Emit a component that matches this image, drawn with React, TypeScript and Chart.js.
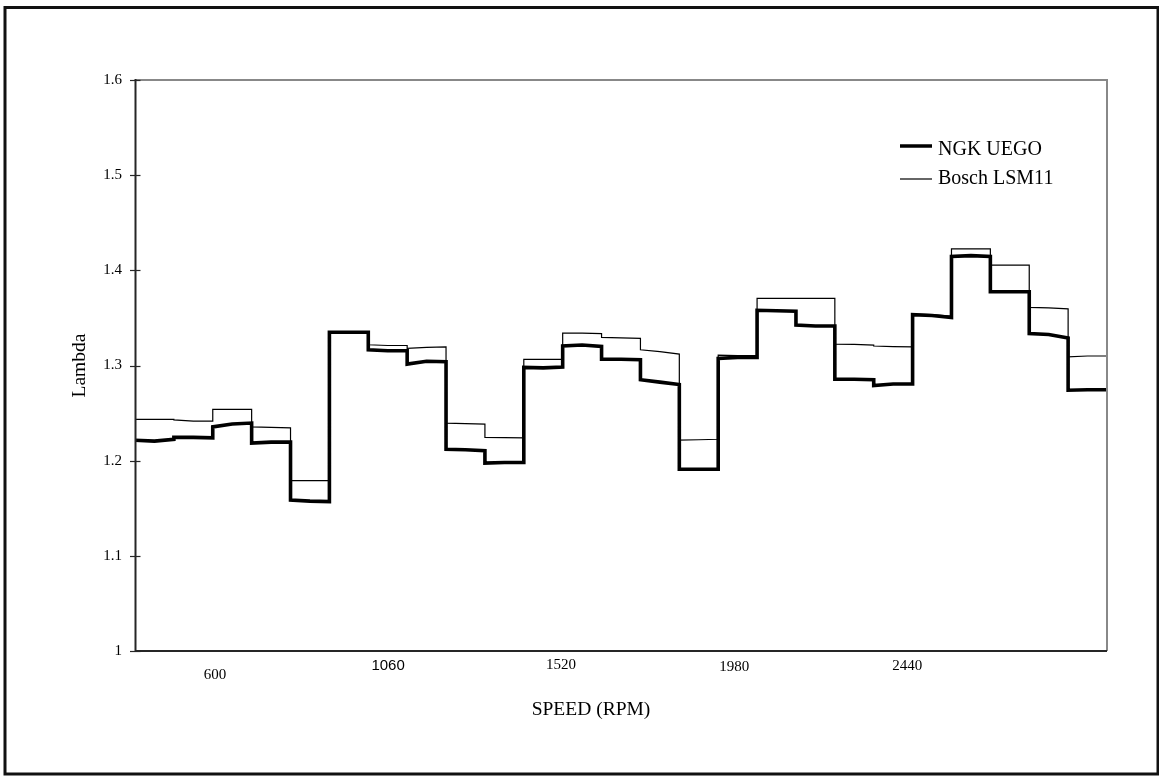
import { useEffect, useRef } from 'react';
import { Chart, registerables } from 'chart.js';

Chart.register(...registerables);

// Lambda readings for 25 consecutive test points (5 speeds x 5 loads).
// Each test point is described by its value at the start, middle and end of the hold.
const NGK_START = [1.2215, 1.2245, 1.2355, 1.2185, 1.1585, 1.335, 1.3165, 1.3015, 1.212, 1.1975, 1.298, 1.3205, 1.3065, 1.285, 1.191, 1.3075, 1.358, 1.3425, 1.2855, 1.279, 1.3535, 1.4145, 1.3775, 1.3335, 1.274];
const NGK_MID = [1.2205, 1.2245, 1.2385, 1.2195, 1.1575, 1.335, 1.3155, 1.3045, 1.2115, 1.198, 1.2975, 1.3215, 1.3065, 1.2825, 1.191, 1.3085, 1.3575, 1.3415, 1.2855, 1.2805, 1.3525, 1.4155, 1.3775, 1.3325, 1.2745];
const NGK_END = [1.2225, 1.224, 1.2395, 1.2195, 1.157, 1.335, 1.3155, 1.304, 1.2105, 1.198, 1.2985, 1.32, 1.306, 1.28, 1.191, 1.3085, 1.357, 1.3415, 1.285, 1.2805, 1.3505, 1.4145, 1.3775, 1.329, 1.2745];

const BOSCH_START = [1.2434, 1.2428, 1.254, 1.2355, 1.179, 1.3355, 1.3218, 1.318, 1.2395, 1.2245, 1.3065, 1.334, 1.3295, 1.3165, 1.2215, 1.311, 1.3705, 1.3705, 1.3225, 1.3205, 1.354, 1.4225, 1.4055, 1.361, 1.309];
const BOSCH_MID = [1.2434, 1.2416, 1.254, 1.235, 1.179, 1.3355, 1.321, 1.319, 1.239, 1.2242, 1.3065, 1.334, 1.329, 1.3145, 1.222, 1.3105, 1.3705, 1.3705, 1.3222, 1.3198, 1.3535, 1.4225, 1.4055, 1.3605, 1.31];
const BOSCH_END = [1.2434, 1.2416, 1.254, 1.2345, 1.179, 1.3355, 1.321, 1.3195, 1.2385, 1.224, 1.3065, 1.3335, 1.3285, 1.312, 1.2225, 1.3105, 1.3705, 1.3705, 1.3215, 1.3195, 1.352, 1.4225, 1.4055, 1.3595, 1.31];

const SERIES_NAMES = ['NGK UEGO', 'Bosch LSM11'];

// Speed labels and where they sit along the test-point axis
const X_LABELS = ['600', '1060', '1520', '1980', '2440'];
const X_LABEL_AT = [2.06, 6.51, 10.96, 15.41, 19.86];

const Y_MIN = 1;
const Y_MAX = 1.6;
const Y_STEP = 0.1;

const X_TITLE = 'SPEED (RPM)';
const Y_TITLE = 'Lambda';

const SERIF = "'Liberation Serif', 'Times New Roman', serif";
const SANS = "'Liberation Sans', Arial, sans-serif";

// per-label font and vertical offset below the x axis
const X_LABEL_STYLE = [
  { family: SERIF, dy: 24 },
  { family: SANS, dy: 15 },
  { family: SERIF, dy: 14 },
  { family: SERIF, dy: 16 },
  { family: SERIF, dy: 15 },
];

function buildTrace(start: number[], mid: number[], end: number[]) {
  const pts: { x: number; y: number }[] = [];
  for (let i = 0; i < start.length; i++) {
    pts.push({ x: i, y: start[i] }, { x: i + 0.5, y: mid[i] }, { x: i + 1, y: end[i] });
  }
  return pts;
}

const decorations = {
  id: 'decorations',
  afterDraw(chart: any) {
    const { ctx, chartArea, scales } = chart;
    const { left, right, top, bottom } = chartArea;
    const xs = scales.x;
    const ys = scales.y;
    ctx.save();

    // plot frame: grey top/right, dark left/bottom axes
    ctx.lineCap = 'butt';
    ctx.strokeStyle = '#888888';
    ctx.lineWidth = 2;
    ctx.beginPath();
    ctx.moveTo(left, top);
    ctx.lineTo(right, top);
    ctx.lineTo(right, bottom);
    ctx.stroke();

    ctx.strokeStyle = '#262626';
    ctx.lineWidth = 2;
    ctx.beginPath();
    ctx.moveTo(left + 0.5, top - 1);
    ctx.lineTo(left + 0.5, bottom + 1);
    ctx.moveTo(left, bottom);
    ctx.lineTo(right, bottom);
    ctx.stroke();

    // cross tick marks on the y axis
    ctx.lineWidth = 1.2;
    ys.ticks.forEach((t: any) => {
      const py = Math.round(ys.getPixelForValue(t.value)) + 0.5;
      ctx.beginPath();
      ctx.moveTo(left - 5, py);
      ctx.lineTo(left + 5.5, py);
      ctx.stroke();
    });

    ctx.fillStyle = '#000000';

    // x labels
    ctx.textAlign = 'center';
    ctx.textBaseline = 'middle';
    X_LABELS.forEach((lab, i) => {
      const st = X_LABEL_STYLE[i];
      ctx.font = `15px ${st.family}`;
      ctx.fillText(lab, xs.getPixelForValue(X_LABEL_AT[i]), bottom + st.dy);
    });

    // axis titles
    ctx.font = `19.5px ${SERIF}`;
    ctx.fillText(X_TITLE, (left + right) / 2 - 30, 710);
    ctx.save();
    ctx.translate(80, (top + bottom) / 2);
    ctx.rotate(-Math.PI / 2);
    ctx.fillText(Y_TITLE, 0, 0);
    ctx.restore();

    // legend
    const lx0 = 900;
    const lx1 = 932;
    ctx.strokeStyle = '#000000';
    ctx.lineWidth = 3.5;
    ctx.beginPath();
    ctx.moveTo(lx0, 146);
    ctx.lineTo(lx1, 146);
    ctx.stroke();
    ctx.lineWidth = 1.2;
    ctx.beginPath();
    ctx.moveTo(lx0, 179);
    ctx.lineTo(lx1, 179);
    ctx.stroke();
    ctx.font = `20px ${SERIF}`;
    ctx.textAlign = 'left';
    ctx.fillText(SERIES_NAMES[0], 938, 149.5);
    ctx.fillText(SERIES_NAMES[1], 938, 178.5);

    // outer border
    ctx.strokeStyle = '#111111';
    ctx.lineWidth = 3;
    ctx.strokeRect(5, 7.5, 1153, 766.5);

    ctx.restore();
  },
};

export default function App() {
  const canvasRef = useRef<HTMLCanvasElement | null>(null);

  useEffect(() => {
    document.body.style.margin = '0';
    const canvas = canvasRef.current;
    if (!canvas) return;

    const chart = new Chart(canvas, {
      type: 'line',
      data: {
        datasets: [
          {
            label: SERIES_NAMES[0],
            data: buildTrace(NGK_START, NGK_MID, NGK_END),
            borderColor: '#000000',
            borderWidth: 3.6,
            pointRadius: 0,
            tension: 0,
            fill: false,
          },
          {
            label: SERIES_NAMES[1],
            data: buildTrace(BOSCH_START, BOSCH_MID, BOSCH_END),
            borderColor: '#000000',
            borderWidth: 1.2,
            pointRadius: 0,
            tension: 0,
            fill: false,
          },
        ],
      },
      options: {
        animation: false,
        responsive: false,
        devicePixelRatio: 1,
        parsing: false,
        layout: { padding: { top: 80, right: 52, left: 0, bottom: 0 } },
        plugins: {
          legend: { display: false },
          tooltip: { enabled: false },
          title: { display: false },
        },
        scales: {
          x: {
            type: 'linear',
            min: 0,
            max: NGK_START.length,
            grid: { display: false },
            border: { display: false },
            ticks: { display: false },
            afterFit: (s: any) => {
              s.height = 125;
            },
          },
          y: {
            type: 'linear',
            min: Y_MIN,
            max: Y_MAX,
            grid: { display: false },
            border: { display: false },
            ticks: {
              stepSize: Y_STEP,
              padding: 5,
              color: '#000000',
              font: { family: SERIF, size: 15 },
              callback: (v: any) => String(Math.round(Number(v) * 10) / 10),
            },
            afterFit: (s: any) => {
              s.width = 135;
            },
          },
        },
      },
      plugins: [decorations],
    });

    return () => chart.destroy();
  }, []);

  return (
    <div style={{ width: 1159, height: 776, background: '#ffffff' }}>
      <canvas ref={canvasRef} width={1159} height={776} style={{ display: 'block' }} />
    </div>
  );
}
